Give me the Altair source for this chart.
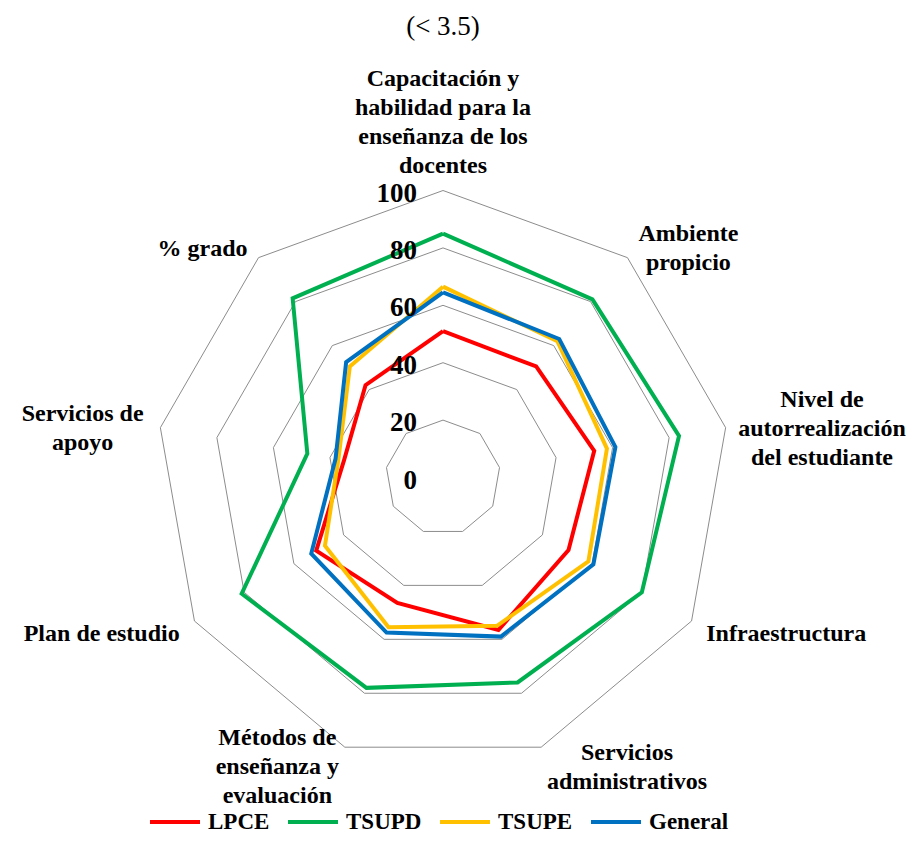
import math
import altair as alt
import pandas as pd

# ---------------- data ----------------
categories = [
    "Capacitación y\nhabilidad para la\nenseñanza de los\ndocentes",
    "Ambiente\npropicio",
    "Nivel de\nautorrealización\ndel estudiante",
    "Infraestructura",
    "Servicios\nadministrativos",
    "Métodos de\nenseñanza y\nevaluación",
    "Plan de estudio",
    "Servicios de\napoyo",
    "% grado",
]
series_names = ["LPCE", "TSUPD", "TSUPE", "General"]
lpce = [51, 50.5, 53.5, 50.5, 56.5, 46.5, 51, 35, 42]
tsupd = [85, 81, 83.5, 80, 76, 78, 81, 48, 81.5]
tsupe = [66.5, 62, 58, 58.5, 55, 55.5, 47.5, 37, 50.5]
general = [64.5, 63, 61, 60.5, 59, 57.5, 53, 38, 52.5]
grid_levels = [20, 40, 60, 80, 100]
tick_values = [0, 20, 40, 60, 80, 100]
title_text = "(< 3.5)"

# ---------------- styles / layout ----------------
series_colors = ["#FF0000", "#00B050", "#FFC000", "#0070C0"]
FONT = "Liberation Serif"
W, H = 898, 780
PAD_TOP = 48
CX, CY = 435.0, 421.5      # centre of radar in plot pixels
K = 2.87                    # pixels per value unit
FS_CAT, LH_CAT, GAP = 24, 29, 17

n = len(categories)
x_scale = alt.Scale(domain=[-CX / K, (W - CX) / K], nice=False, zero=False)
y_scale = alt.Scale(domain=[-(H - CY) / K, CY / K], nice=False, zero=False)

# ---------------- tables ----------------
values = [lpce, tsupd, tsupe, general]
series_rows = []
for name, vals in zip(series_names, values):
    for i in range(n + 1):
        series_rows.append({"series": name, "idx": i, "value": vals[i % n]})
series_df = pd.DataFrame(series_rows)

grid_rows = []
for lev in grid_levels:
    for i in range(n + 1):
        grid_rows.append({"level": lev, "idx": i, "value": lev})
grid_df = pd.DataFrame(grid_rows)

tick_df = pd.DataFrame({"value": tick_values, "text": [str(v) for v in tick_values]})

# Times-Bold metrics (Liberation Serif is metric compatible) to size label boxes
CHAR_W = {' ': 250, '%': 1000, 'a': 500, 'b': 556, 'c': 444, 'd': 556, 'e': 444,
          'f': 333, 'g': 500, 'h': 556, 'i': 278, 'l': 278, 'm': 833, 'n': 556,
          'o': 500, 'p': 556, 'r': 444, 's': 389, 't': 333, 'u': 556, 'v': 500,
          'y': 500, 'z': 444, 'A': 722, 'C': 722, 'I': 389, 'M': 944, 'N': 722,
          'P': 611, 'S': 556, 'ó': 500, 'é': 444, 'ñ': 556}


def text_width(s):
    return sum(CHAR_W.get(c, 500) for c in s) * FS_CAT / 1000.0


label_rows = []
for i, lab in enumerate(categories):
    a = 2 * math.pi * i / n
    ux, uy = math.sin(a), math.cos(a)
    parts = lab.split("\n")
    w = max(text_width(p) for p in parts)
    h = (len(parts) - 1) * LH_CAT + FS_CAT * 0.6
    px = CX + (100 * K + GAP) * ux
    py = CY - (100 * K + GAP) * uy          # block centre, pixels
    if abs(ux) > 0.05:
        px += math.copysign(w / 2, ux)
        py += 4
    else:
        py -= h / 2 if uy > 0 else -h / 2
    px = min(max(px, w / 2 + 7), W - w / 2)
    py_first = py - (len(parts) - 1) * LH_CAT / 2   # Vega anchors the first line
    label_rows.append({"label": lab, "x": (px - CX) / K, "y": (CY - py_first) / K})
label_df = pd.DataFrame(label_rows)

polar = dict(
    x=f"datum.value * sin(datum.idx * 2 * PI / {n})",
    y=f"datum.value * cos(datum.idx * 2 * PI / {n})",
)

grid = alt.Chart(grid_df).transform_calculate(**polar).mark_line(
    stroke="#8c8c8c", strokeWidth=1
).encode(
    x=alt.X("x:Q", scale=x_scale, axis=None),
    y=alt.Y("y:Q", scale=y_scale, axis=None),
    detail="level:N",
    order="idx:Q",
)

lines = alt.Chart(series_df).transform_calculate(**polar).mark_line(
    strokeWidth=4, strokeJoin="miter"
).encode(
    x=alt.X("x:Q", scale=x_scale, axis=None),
    y=alt.Y("y:Q", scale=y_scale, axis=None),
    color=alt.Color(
        "series:N",
        scale=alt.Scale(domain=series_names, range=series_colors),
        sort=series_names,
        legend=alt.Legend(
            title=None, orient="none", legendX=140, legendY=739,
            direction="horizontal", symbolType="stroke", symbolStrokeWidth=4,
            symbolSize=2500, labelFont=FONT, labelFontSize=23,
            labelFontWeight="bold", labelColor="black", columnPadding=10,
            labelOffset=6, padding=0,
        ),
    ),
    order="idx:Q",
)

ticks = alt.Chart(tick_df).transform_calculate(x="0", y="datum.value").mark_text(
    align="right", baseline="middle", dx=-26, dy=3, font=FONT, fontSize=27,
    fontWeight="bold", color="black"
).encode(
    x=alt.X("x:Q", scale=x_scale, axis=None),
    y=alt.Y("y:Q", scale=y_scale, axis=None),
    text="text:N",
)

labels = alt.Chart(label_df).mark_text(
    align="center", baseline="middle", lineBreak="\n", lineHeight=LH_CAT,
    font=FONT, fontSize=FS_CAT, fontWeight="bold", color="black"
).encode(
    x=alt.X("x:Q", scale=x_scale, axis=None),
    y=alt.Y("y:Q", scale=y_scale, axis=None),
    text="label:N",
)

chart = alt.layer(grid, lines, ticks, labels).properties(
    width=W, height=H,
    title=alt.TitleParams(text=title_text, font=FONT, fontSize=27,
                          fontWeight="normal", anchor="middle", offset=15,
                          dx=CX - W / 2, color="black"),
    padding={"left": 0, "right": 0, "top": PAD_TOP, "bottom": 0},
    autosize="none",
).configure_view(stroke=None)

chart.save("out.html", embed_options={"renderer": "svg", "actions": False})
